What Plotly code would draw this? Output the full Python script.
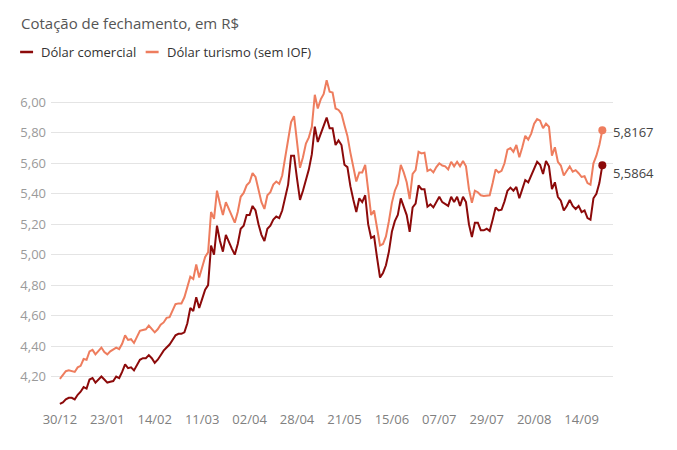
import plotly.graph_objects as go
import pandas as pd

# trading days (B3 calendar) from 30/12/2019 to 23/09/2020
feriados = ['2019-12-31', '2020-01-01', '2020-02-24', '2020-02-25', '2020-04-10',
            '2020-04-21', '2020-05-01', '2020-06-11', '2020-09-07']
dias = pd.bdate_range('2019-12-30', '2020-09-23')
dias = dias[~dias.isin(pd.to_datetime(feriados))]
datas = [d.strftime('%Y-%m-%d') for d in dias]

tick_labels = ['30/12', '23/01', '14/02', '11/03', '02/04', '28/04',
               '21/05', '15/06', '07/07', '29/07', '20/08', '14/09']

dolar_comercial = [
    4.02, 4.03, 4.05, 4.06, 4.06, 4.05, 4.08, 4.10, 4.13, 4.12,
    4.18, 4.19, 4.16, 4.18, 4.20, 4.18, 4.16, 4.165, 4.17, 4.20,
    4.19, 4.23, 4.28, 4.255, 4.26, 4.24, 4.28, 4.31, 4.32, 4.32,
    4.34, 4.32, 4.29, 4.31, 4.34, 4.37, 4.39, 4.41, 4.44, 4.47,
    4.48, 4.48, 4.49, 4.55, 4.65, 4.63, 4.72, 4.65, 4.71, 4.77,
    4.80, 5.06, 5.00, 5.19, 5.09, 5.02, 5.13, 5.08, 5.04, 5.00,
    5.07, 5.17, 5.19, 5.26, 5.26, 5.32, 5.29, 5.20, 5.13, 5.09,
    5.17, 5.19, 5.23, 5.25, 5.24, 5.29, 5.38, 5.46, 5.65, 5.65,
    5.50, 5.36, 5.42, 5.49, 5.56, 5.66, 5.84, 5.74, 5.79, 5.85,
    5.90, 5.83, 5.83, 5.72, 5.75, 5.72, 5.59, 5.575, 5.45, 5.36,
    5.28, 5.37, 5.345, 5.39, 5.20, 5.11, 5.12, 4.98, 4.85, 4.88,
    4.93, 5.02, 5.15, 5.22, 5.26, 5.37, 5.32, 5.26, 5.15, 5.31,
    5.335, 5.455, 5.43, 5.43, 5.315, 5.33, 5.31, 5.345, 5.38, 5.345,
    5.335, 5.32, 5.38, 5.345, 5.38, 5.32, 5.38, 5.345, 5.20, 5.115,
    5.21, 5.21, 5.16, 5.16, 5.17, 5.155, 5.23, 5.31, 5.29, 5.295,
    5.35, 5.42, 5.44, 5.42, 5.445, 5.37, 5.43, 5.49, 5.475, 5.52,
    5.565, 5.61, 5.59, 5.53, 5.615, 5.58, 5.43, 5.475, 5.38, 5.355,
    5.29, 5.32, 5.36, 5.32, 5.30, 5.32, 5.28, 5.29, 5.24, 5.23,
    5.37, 5.40, 5.47, 5.5864,
]

dolar_turismo = [
    4.185, 4.21, 4.235, 4.24, 4.235, 4.23, 4.26, 4.27, 4.315, 4.31,
    4.365, 4.375, 4.345, 4.365, 4.39, 4.36, 4.345, 4.365, 4.375, 4.39,
    4.38, 4.415, 4.47, 4.44, 4.445, 4.42, 4.46, 4.50, 4.505, 4.51,
    4.535, 4.515, 4.49, 4.51, 4.54, 4.555, 4.585, 4.59, 4.635, 4.675,
    4.68, 4.68, 4.72, 4.785, 4.855, 4.84, 4.935, 4.85, 4.92, 4.985,
    5.015, 5.28, 5.235, 5.42, 5.335, 5.26, 5.345, 5.30, 5.26, 5.21,
    5.28, 5.38, 5.405, 5.455, 5.475, 5.535, 5.51, 5.43, 5.345, 5.30,
    5.39, 5.41, 5.46, 5.48, 5.465, 5.52, 5.64, 5.78, 5.87, 5.91,
    5.72, 5.57, 5.64, 5.73, 5.77, 5.84, 6.05, 5.96, 6.02, 6.055,
    6.145, 6.07, 6.065, 5.96, 5.95, 5.925, 5.85, 5.78, 5.67, 5.58,
    5.48, 5.54, 5.54, 5.59, 5.42, 5.26, 5.29, 5.17, 5.06, 5.07,
    5.12, 5.22, 5.34, 5.42, 5.465, 5.59, 5.54, 5.475, 5.365, 5.53,
    5.555, 5.675, 5.665, 5.67, 5.55, 5.56, 5.54, 5.575, 5.60, 5.585,
    5.58, 5.56, 5.61, 5.58, 5.61, 5.58, 5.615, 5.58, 5.43, 5.34,
    5.42, 5.41, 5.39, 5.385, 5.39, 5.39, 5.47, 5.56, 5.54, 5.55,
    5.60, 5.69, 5.70, 5.675, 5.72, 5.64, 5.705, 5.78, 5.755, 5.795,
    5.86, 5.89, 5.88, 5.83, 5.86, 5.84, 5.65, 5.705, 5.61, 5.585,
    5.52, 5.55, 5.58, 5.545, 5.555, 5.535, 5.51, 5.515, 5.47, 5.46,
    5.60, 5.65, 5.72, 5.8167,
]

COR_COM = '#8c0a0a'
COR_TUR = '#ee7d5e'
FONTE = 'Open Sans'

fig = go.Figure()

for nome, serie, cor in [('Dólar turismo (sem IOF)', dolar_turismo, COR_TUR),
                         ('Dólar comercial', dolar_comercial, COR_COM)]:
    fig.add_scatter(x=datas, y=serie, name=nome, mode='lines',
                    line=dict(color=cor, width=2), showlegend=False)
    # last point marker
    fig.add_scatter(x=[datas[-1]], y=[serie[-1]], mode='markers',
                    marker=dict(color=cor, size=8), showlegend=False,
                    cliponaxis=False)

fig.add_annotation(x=datas[-1], y=dolar_turismo[-1], xref='x', yref='y',
                   text=f'{dolar_turismo[-1]:.4f}'.replace('.', ','),
                   showarrow=False, xanchor='left', xshift=9, yshift=-2,
                   font=dict(family=FONTE, size=13, color='#444'))
fig.add_annotation(x=datas[-1], y=dolar_comercial[-1], xref='x', yref='y',
                   text=f'{dolar_comercial[-1]:.4f}'.replace('.', ','),
                   showarrow=False, xanchor='left', xshift=9, yshift=-8,
                   font=dict(family=FONTE, size=13, color='#444'))

# page has an 8px body margin, so the plot area is laid out 8px up/left
OFF = 8
L, T, PW, PH = 49 - OFF, 78 - OFF, 564, 332

def px(p):
    return (p - 49) / PW

def py(p):
    return (410 - p) / PH

# subtitle
fig.add_annotation(x=px(17), y=py(23), xref='paper', yref='paper',
                   text='Cotação de fechamento, em R$', showarrow=False,
                   xanchor='left', yanchor='middle',
                   font=dict(family=FONTE, size=15, color='#555'))

# custom legend (short line swatches)
for x0, x1, cor, txt, tx in [(18, 31, COR_COM, 'Dólar comercial', 37),
                             (144, 157, COR_TUR, 'Dólar turismo (sem IOF)', 163)]:
    fig.add_shape(type='line', xref='paper', yref='paper',
                  x0=px(x0), x1=px(x1), y0=py(52), y1=py(52),
                  line=dict(color=cor, width=2.5))
    fig.add_annotation(x=px(tx), y=py(52), xref='paper', yref='paper',
                       text=txt, showarrow=False, xanchor='left', yanchor='middle',
                       font=dict(family=FONTE, size=13, color='#333'))

fig.update_layout(
    width=677, height=450,
    margin=dict(l=L, r=677 - L - PW, t=T, b=450 - T - PH),
    plot_bgcolor='white', paper_bgcolor='white',
    separators=',.',
    font=dict(family=FONTE),
    xaxis=dict(type='category', range=[-3, 186.6],
               tickvals=datas[::16], ticktext=tick_labels,
               showgrid=False, zeroline=False, showline=False, ticks='',
               tickfont=dict(size=13, color='#808080')),
    yaxis=dict(range=[3.98, 6.16],
               tickvals=[4.2, 4.4, 4.6, 4.8, 5.0, 5.2, 5.4, 5.6, 5.8, 6.0],
               tickformat='.2f', showgrid=True, gridcolor='#e4e4e4', gridwidth=1,
               zeroline=False, showline=False, ticks='', ticklabelstandoff=4,
               tickfont=dict(size=13, color='#9a9a9a')),
)

fig.write_html('out.html')
